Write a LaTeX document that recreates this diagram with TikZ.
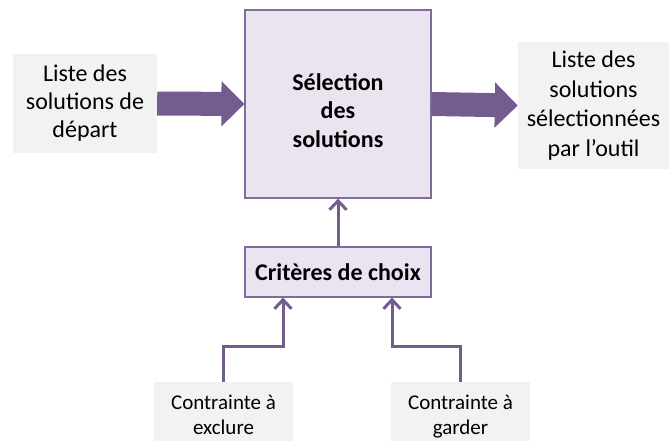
\documentclass[tikz,border=0pt]{standalone}
\usepackage{fontspec}
\setmainfont{Carlito}
\usepackage{xcolor}
\usetikzlibrary{arrows.meta}

\definecolor{violet}{HTML}{745C91}
\definecolor{lavande}{HTML}{EAE4F0}
\definecolor{cadre}{HTML}{806C9C}
\definecolor{gris}{HTML}{F2F2F2}

\begin{document}
\begin{tikzpicture}[
          x=1pt, y=-1pt,
          every node/.style={font=\fontsize{24}{28}\selectfont, align=center, inner sep=0pt},
          bloc/.style={draw=cadre, line width=1.2pt, fill=lavande, font=\fontsize{24}{28.5}\selectfont\bfseries},
          texte/.style={fill=gris},
          petit/.style={fill=gris, font=\fontsize{21}{25}\selectfont},
          grosse/.style={violet, line width=24pt, -{Triangle[length=23pt, width=44pt]}},
          fine/.style={violet, line width=3pt, -{Straight Barb[length=9pt, width=17pt, line width=3pt]}}
      ]
        \useasboundingbox (0,0) rectangle (669,441);

        \node[bloc, minimum width=186pt, minimum height=188pt] (sel) at (338,104) {\rule{0pt}{30pt}S\'election\\des\\solutions};
        \node[bloc, minimum width=186pt, minimum height=50pt] (crit) at (338,272) {Crit\`eres de choix};

        \node[texte, minimum width=144pt, minimum height=99pt] (depart) at (85,103.5) {Liste des\\solutions de\\d\'epart};
        \node[texte, minimum width=151pt, minimum height=127pt, font=\fontsize{24}{29.5}\selectfont] (sortie) at (593.5,105.5) {Liste des\\solutions\\s\'electionn\'ees\\par l'outil};

        \node[petit, minimum width=139pt, minimum height=74pt] (exclure) at (223.5,419) {Contrainte \`a\\exclure\strut};
        \node[petit, minimum width=139pt, minimum height=74pt] (garder) at (460.5,419) {Contrainte \`a\\garder\strut};

        % grosses fleches
        \draw[grosse] (depart.east) -- (sel.west);
        \draw[grosse] (sel.east) -- (sortie.west);

        % fleches fines
        \draw[fine] (crit.north) -- (sel.south);
        \draw[fine] (exclure.north) -- ++(0,-35) -| ([xshift=-55pt]crit.south);
        \draw[fine] (garder.north) -- ++(0,-35) -| ([xshift=54pt]crit.south);
      \end{tikzpicture}
\end{document}
